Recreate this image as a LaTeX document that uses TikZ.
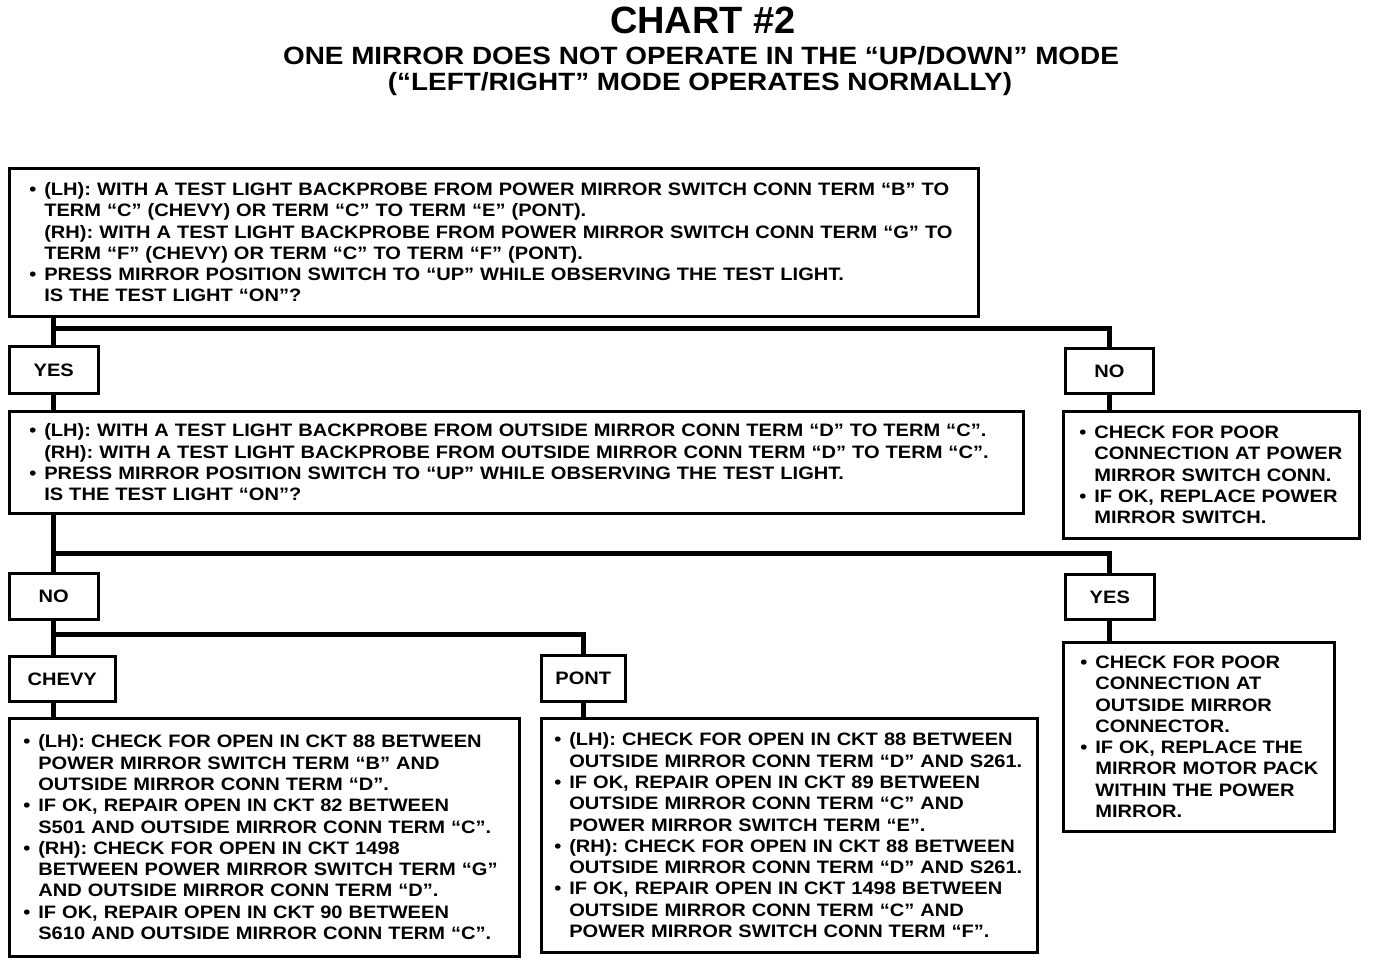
\documentclass[tikz,border=0pt]{standalone}
\usepackage{fontspec}
\setmainfont{Liberation Sans}
\newfontfamily\widefont{Liberation Sans Bold}[FakeStretch=1.115]
\newcommand\bodyfont{\fontsize{18}{21.3}\selectfont\widefont}
\newcommand\bl{\makebox[15pt][l]{\textbullet}}
\newcommand\ind{\hspace*{15pt}}
\begin{document}
\begin{tikzpicture}[x=1pt,y=-1pt,
  box/.style={draw, line width=2.6pt, anchor=north west, inner ysep=0pt, align=left, font=\bodyfont},
  lab/.style={draw, line width=2.6pt, anchor=north west, inner sep=0pt, font=\bodyfont},
  conn/.style={line width=5pt, line join=miter}]
\useasboundingbox[fill=white] (0,0) rectangle (1376,962);
\node[font=\fontsize{38}{40}\selectfont\bfseries] (title) at (703,20) {CHART \#2};
\node[font=\fontsize{25}{28}\selectfont\widefont] (sub1) at (701,56) {ONE MIRROR DOES NOT OPERATE IN THE “UP/DOWN” MODE};
\node[font=\fontsize{25}{28}\selectfont\widefont] (sub2) at (700,84) {(“LEFT/RIGHT” MODE OPERATES NORMALLY)};

\node[box, inner xsep=20pt, minimum width=969pt, minimum height=148pt, text width=929pt] (box1) at (8,167) {%
\bl(LH): WITH A TEST LIGHT BACKPROBE FROM POWER MIRROR SWITCH CONN TERM “B” TO\\
\ind TERM “C” (CHEVY) OR TERM “C” TO TERM “E” (PONT).\\
\ind (RH): WITH A TEST LIGHT BACKPROBE FROM POWER MIRROR SWITCH CONN TERM “G” TO\\
\ind TERM “F” (CHEVY) OR TERM “C” TO TERM “F” (PONT).\\
\bl PRESS MIRROR POSITION SWITCH TO “UP” WHILE OBSERVING THE TEST LIGHT.\\
\ind IS THE TEST LIGHT “ON”?};

\node[lab, minimum width=89pt, minimum height=47pt] (yes1) at (8,345) {YES};
\node[lab, minimum width=88pt, minimum height=45pt] (no1) at (1064,347) {NO};

\node[box, inner xsep=20pt, minimum width=1014pt, minimum height=102pt, text width=974pt] (box2) at (8,410) {%
\bl(LH): WITH A TEST LIGHT BACKPROBE FROM OUTSIDE MIRROR CONN TERM “D” TO TERM “C”.\\
\ind (RH): WITH A TEST LIGHT BACKPROBE FROM OUTSIDE MIRROR CONN TERM “D” TO TERM “C”.\\
\bl PRESS MIRROR POSITION SWITCH TO “UP” WHILE OBSERVING THE TEST LIGHT.\\
\ind IS THE TEST LIGHT “ON”?};

\node[box, inner xsep=16pt, minimum width=296pt, minimum height=127pt, text width=264pt] (nobox) at (1062,410) {%
\bl CHECK FOR POOR\\
\ind CONNECTION AT POWER\\
\ind MIRROR SWITCH CONN.\\
\bl IF OK, REPLACE POWER\\
\ind MIRROR SWITCH.};

\node[lab, minimum width=89pt, minimum height=46pt] (no2) at (8,572) {NO};
\node[lab, minimum width=89pt, minimum height=45pt] (yes2) at (1064,573) {YES};

\node[box, inner xsep=17pt, minimum width=271pt, minimum height=189pt, text width=237pt] (yesbox) at (1062,641) {%
\bl CHECK FOR POOR\\
\ind CONNECTION AT\\
\ind OUTSIDE MIRROR\\
\ind CONNECTOR.\\
\bl IF OK, REPLACE THE\\
\mbox{\ind MIRROR MOTOR PACK}\\
\ind WITHIN THE POWER\\
\ind MIRROR.};

\node[lab, minimum width=106pt, minimum height=45pt] (chevy) at (8,655) {CHEVY};
\node[lab, minimum width=84pt, minimum height=46pt] (pont) at (540,654) {PONT};

\node[box, inner xsep=14pt, minimum width=510pt, minimum height=238pt, text width=482pt] (chevybox) at (8,717) {%
\bl(LH): CHECK FOR OPEN IN CKT 88 BETWEEN\\
\ind POWER MIRROR SWITCH TERM “B” AND\\
\ind OUTSIDE MIRROR CONN TERM “D”.\\
\bl IF OK, REPAIR OPEN IN CKT 82 BETWEEN\\
\ind S501 AND OUTSIDE MIRROR CONN TERM “C”.\\
\bl(RH): CHECK FOR OPEN IN CKT 1498\\
\ind BETWEEN POWER MIRROR SWITCH TERM “G”\\
\ind AND OUTSIDE MIRROR CONN TERM “D”.\\
\bl IF OK, REPAIR OPEN IN CKT 90 BETWEEN\\
\ind S610 AND OUTSIDE MIRROR CONN TERM “C”.};

\node[box, inner xsep=13pt, minimum width=496pt, minimum height=234pt, text width=470pt] (pontbox) at (540,717) {%
\bl(LH): CHECK FOR OPEN IN CKT 88 BETWEEN\\
\ind OUTSIDE MIRROR CONN TERM “D” AND S261.\\
\bl IF OK, REPAIR OPEN IN CKT 89 BETWEEN\\
\ind OUTSIDE MIRROR CONN TERM “C” AND\\
\ind POWER MIRROR SWITCH TERM “E”.\\
\bl(RH): CHECK FOR OPEN IN CKT 88 BETWEEN\\
\ind OUTSIDE MIRROR CONN TERM “D” AND S261.\\
\bl IF OK, REPAIR OPEN IN CKT 1498 BETWEEN\\
\ind OUTSIDE MIRROR CONN TERM “C” AND\\
\ind POWER MIRROR SWITCH CONN TERM “F”.};

\coordinate (j1) at (52.5,328);
\coordinate (j2) at (52.5,553);
\coordinate (j3) at (52.5,634);
\draw[conn] (box1.south -| yes1.north) -- (yes1.north);
\draw[conn] (j1) -| (no1.north);
\draw[conn] (yes1.south) -- (box2.north -| yes1.south);
\draw[conn] (no1.south) -- (nobox.north -| no1.south);
\draw[conn] (box2.south -| no2.north) -- (no2.north);
\draw[conn] (j2) -| (yes2.north);
\draw[conn] (yes2.south) -- (yesbox.north -| yes2.south);
\draw[conn] (no2.south) -- (chevy.north -| no2.south);
\draw[conn] (j3) -| (pont.north);
\draw[conn] (chevy.south -| no2.south) -- (chevybox.north -| no2.south);
\draw[conn] (pont.south) -- (pontbox.north -| pont.south);
\end{tikzpicture}
\end{document}
